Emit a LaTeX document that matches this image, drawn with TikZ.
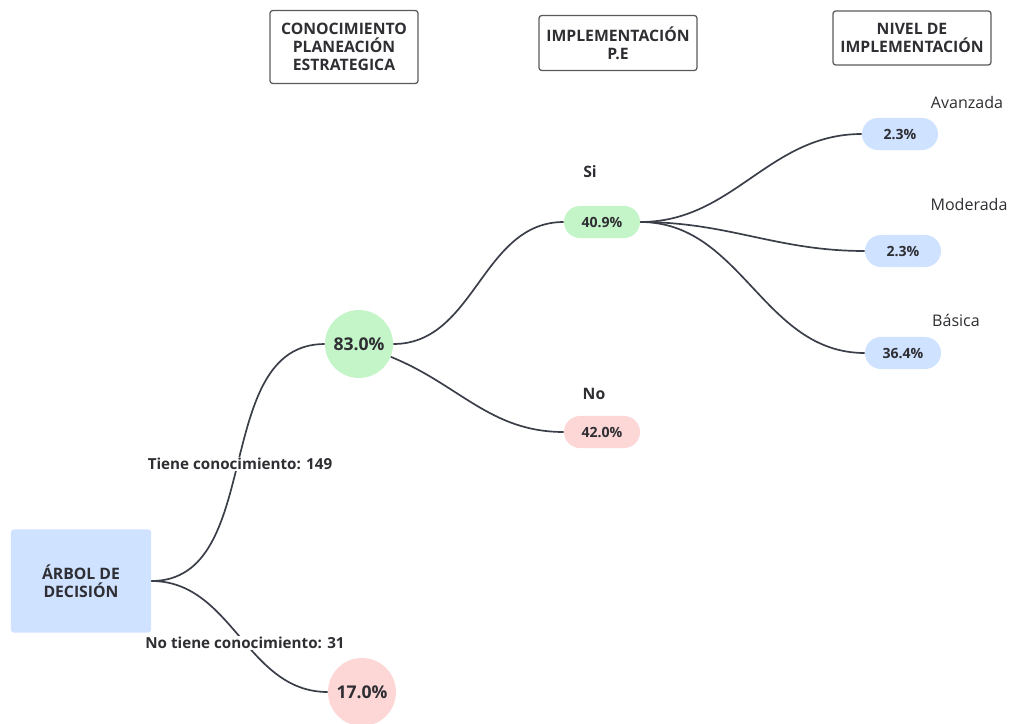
\documentclass[tikz,border=0pt]{standalone}
\usepackage{fontspec}
\setmainfont{Open Sans}
\usetikzlibrary{positioning}
\definecolor{linea}{HTML}{3A3E48}
\definecolor{texto}{HTML}{2E2E33}
\definecolor{azul}{HTML}{CFE2FF}
\definecolor{verde}{HTML}{C4F5C8}
\definecolor{rosa}{HTML}{FDD6D6}
\definecolor{borde}{HTML}{5A5A5A}

\begin{document}
\begin{tikzpicture}[x=0.025cm,y=-0.025cm,text=texto,
  font=\fontsize{11.2}{13}\selectfont\bfseries,
  encabezado/.style={draw=borde,line width=0.9pt,rounded corners=2pt,align=center,inner sep=0pt},
  pastilla/.style={rounded corners=0.4cm,minimum width=1.9cm,minimum height=0.8cm,inner sep=0pt,
    font=\fontsize{10}{12}\selectfont\bfseries},
  circulo/.style={circle,minimum size=1.7cm,inner sep=0pt,font=\fontsize{12.5}{14}\selectfont\bfseries},
  rama/.style={draw=linea,line width=1.2pt},
  nivel/.style={font=\fontsize{11.4}{13}\selectfont},
  etiqueta/.style={fill=white,inner sep=1pt,font=\fontsize{10.8}{13}\selectfont\bfseries}]
  \useasboundingbox (0,0) rectangle (1009,724);

  % encabezados
  \node[encabezado,minimum width=3.7cm,minimum height=1.825cm] (conoc) at (344,47)
    {CONOCIMIENTO\\PLANEACIÓN\\ESTRATEGICA};
  \node[encabezado,minimum width=3.95cm,minimum height=1.375cm] (implem) at (618,43)
    {IMPLEMENTACIÓN\\P.E};
  \node[encabezado,minimum width=3.95cm,minimum height=1.35cm] (nivel) at (912,38)
    {NIVEL DE\\IMPLEMENTACIÓN};

  % nodos del arbol
  \node[fill=azul,rounded corners=2pt,minimum width=3.5cm,minimum height=2.575cm,align=center]
    (arbol) at (81,581) {ÁRBOL DE\\DECISIÓN};
  \node[circulo,fill=verde] (c83) at (359,344) {83.0\%};
  \node[circulo,fill=rosa] (c17) at (362,692) {17.0\%};
  \node[pastilla,fill=verde] (si) at (602,222) {40.9\%};
  \node[pastilla,fill=rosa] (no) at (602,432) {42.0\%};
  \node[pastilla,fill=azul] (avz) at (900,134) {2.3\%};
  \node[pastilla,fill=azul] (mod) at (903,251) {2.3\%};
  \node[pastilla,fill=azul] (bas) at (903,353) {36.4\%};

  % ramas
  \draw[rama] (arbol.east) to[out=0,in=180] (c83.west);
  \draw[rama] (arbol.east) to[out=0,in=180] (c17.west);
  \draw[rama] (c83.east) to[out=0,in=180] (si.west);
  \draw[rama] (c83.-22) to[out=-22,in=180] (no.west);
  \draw[rama] (si.east) to[out=0,in=180] (avz.west);
  \draw[rama] (si.east) to[out=0,in=180] (mod.west);
  \draw[rama] (si.east) to[out=0,in=180] (bas.west);

  % etiquetas
  \node[etiqueta] (tiene) at (240,464) {Tiene conocimiento: 149};
  \node[etiqueta] (notiene) at (245,643) {No tiene conocimiento: 31};
  \node (lsi) at (590,172) {Si};
  \node (lno) at (594,394) {No};
  \node[nivel] (lavz) at (967,102) {Avanzada};
  \node[nivel] (lmod) at (969,204) {Moderada};
  \node[nivel] (lbas) at (956,320) {Básica};
\end{tikzpicture}
\end{document}
